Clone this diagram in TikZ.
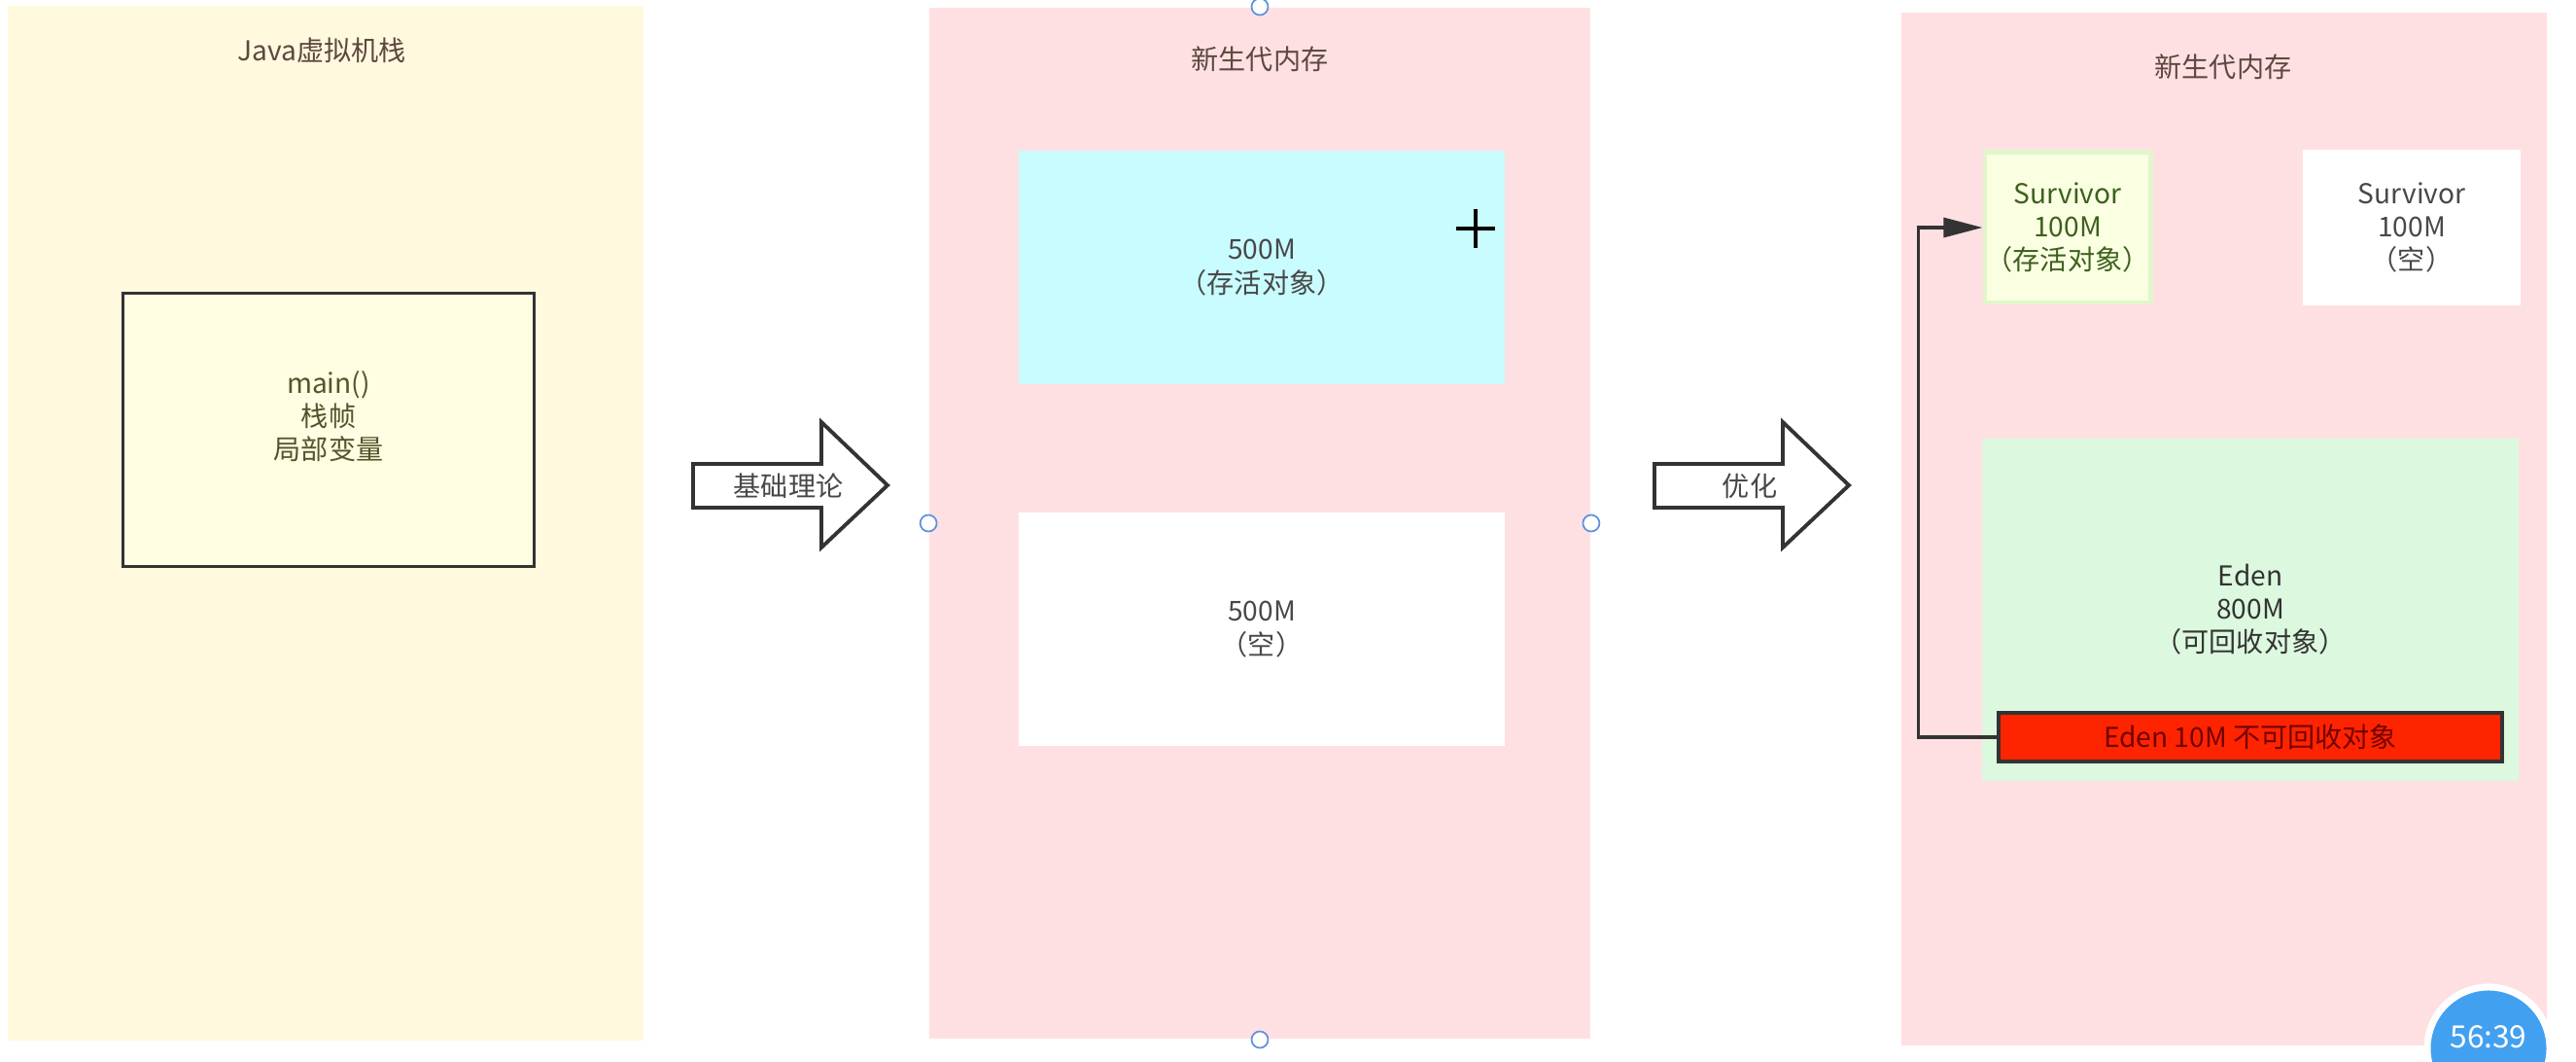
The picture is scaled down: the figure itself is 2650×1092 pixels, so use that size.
\documentclass[tikz,border=0pt]{standalone}
\usepackage{fontspec}
\setmainfont{Noto Sans CJK SC}
\usetikzlibrary{arrows.meta, positioning}

\definecolor{stackbg}{RGB}{255,249,222}
\definecolor{framebg}{RGB}{255,253,226}
\definecolor{youngbg}{RGB}{255,224,226}
\definecolor{livebg}{RGB}{200,252,255}
\definecolor{survbg}{RGB}{250,255,226}
\definecolor{survline}{RGB}{226,246,204}
\definecolor{edenbg}{RGB}{220,248,222}
\definecolor{hardred}{RGB}{255,36,0}
\definecolor{titletxt}{RGB}{92,72,62}
\definecolor{bodytxt}{RGB}{72,72,72}
\definecolor{frametxtc}{RGB}{84,84,44}
\definecolor{survtxt}{RGB}{62,96,30}
\definecolor{handle}{RGB}{96,146,226}
\definecolor{timerblue}{RGB}{66,160,240}

\begin{document}
\begin{tikzpicture}[x=0.01cm, y=-0.01cm,
    txt/.style={font=\fontsize{8}{9.7}\selectfont, align=center, text=bodytxt},
    area/.style={draw=none, inner sep=0pt},
    block/.style={area, txt},
    bigarrow/.style={draw=black!80, line width=1.1pt, fill=white, line join=miter},
    knob/.style={circle, draw=handle, fill=white, line width=0.5pt, minimum size=0.17cm, inner sep=0pt},
    flow/.style={draw=black!80, line width=0.9pt, -{Triangle[length=0.4cm, width=0.2cm]}}]
  \useasboundingbox (0,0) rectangle (2650,1092);
  \clip (0,0) rectangle (2650,1092);
  \fill[white] (0,0) rectangle (2650,1092);

  % Java stack
  \node[area, fill=stackbg, minimum width=6.54cm, minimum height=10.63cm] (stack) at (335,538) {};
  \node[txt, text=titletxt] (stacktitle) at (331,52) {Java虚拟机栈};
  \node[block, fill=framebg, draw=black!80, line width=0.9pt, minimum width=4.22cm, minimum height=2.81cm] (frame) at (338,442) {};
  \node[txt, text=frametxtc] (frametxt) at (338,428) {main()\\栈帧\\局部变量};

  % arrow 1
  \draw[bigarrow] (713,477) -- (845,477) -- (845,434) -- (913,499) -- (845,563) -- (845,522) -- (713,522) -- cycle;
  \node[txt] (theory) at (811,500) {基础理论};

  % young generation, two halves
  \node[area, fill=youngbg, minimum width=6.80cm, minimum height=10.60cm] (young) at (1296,538) {};
  \node[txt, text=titletxt] (youngtitle) at (1296,61) {新生代内存};
  \node[block, fill=livebg, minimum width=5.00cm, minimum height=2.39cm] (halfa) at (1298,275) {500M\\（存活对象）};
  \node[block, fill=white, minimum width=5.00cm, minimum height=2.40cm] (halfb) at (1298,647) {500M\\（空）};
  \draw[line width=1pt] (1498,235) -- (1538,235) (1518,215) -- (1518,255);
  \node[knob] (knobn) at (young.north) {};
  \node[knob] (knobs) at (young.south) {};
  \node[knob] (knobw) at (young.west) {};
  \node[knob] (knobe) at (young.east) {};

  % arrow 2
  \draw[bigarrow] (1702,477) -- (1834,477) -- (1834,434) -- (1902,499) -- (1834,563) -- (1834,522) -- (1702,522) -- cycle;
  \node[txt] (tune) at (1800,500) {优化};

  % young generation, eden + survivors
  \node[area, fill=youngbg, minimum width=6.63cm, minimum height=10.61cm] (young2) at (2288,544) {};
  \node[txt, text=titletxt] (young2title) at (2287,69) {新生代内存};
  \node[block, fill=survbg, draw=survline, line width=1.4pt, minimum width=1.70cm, minimum height=1.54cm, text=survtxt] (surva) at (2127,234) {Survivor\\100M\\（存活对象）};
  \node[block, fill=white, minimum width=2.23cm, minimum height=1.59cm] (survb) at (2481,234) {Survivor\\100M\\（空）};
  \node[block, fill=edenbg, minimum width=5.51cm, minimum height=3.52cm, text=black!80] (eden) at (2315,627) {Eden\\800M\\（可回收对象）};
  \node[txt, fill=hardred, draw=black!80, line width=1.1pt, inner sep=0pt, minimum width=5.17cm, minimum height=0.50cm, text=red!45!black] (keep) at (2315,758) {Eden 10M 不可回收对象};
  \draw[flow] (keep.west) -- ++(-81,0) |- (surva.west);

  % video timer
  \node[circle, fill=timerblue, draw=white, line width=2pt, minimum size=1.26cm] (timer) at (2560,1078) {};
  \node[font=\fontsize{9}{10}\selectfont, text=white] (timertxt) at (2560,1066) {56:39};
\end{tikzpicture}
\end{document}
